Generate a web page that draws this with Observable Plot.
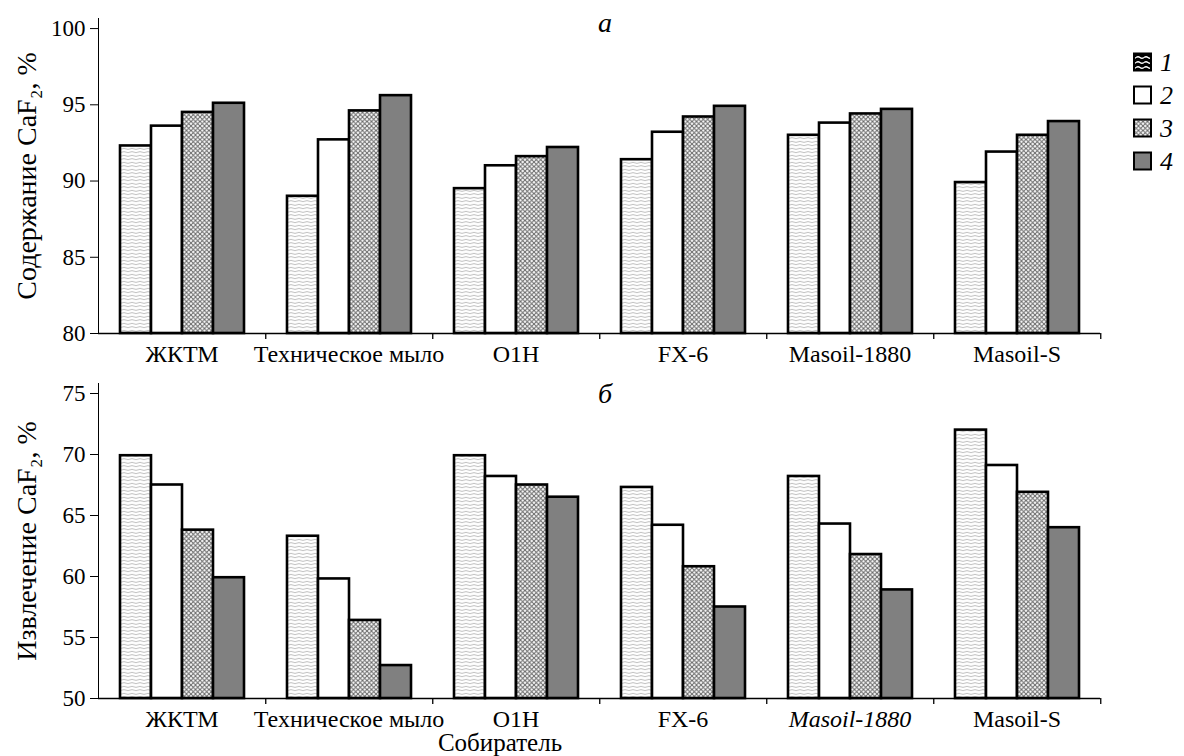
<!DOCTYPE html>
<html><head><meta charset="utf-8">
<script src="https://cdn.jsdelivr.net/npm/d3@7"></script>
<script src="https://cdn.jsdelivr.net/npm/@observablehq/plot@0.6"></script>
<style>
body{margin:0;background:#fff;}
#wrap{position:relative;width:1184px;height:756px;overflow:hidden;background:#fff;}
#wrap svg{display:block;}
#overlay{position:absolute;left:0;top:0;pointer-events:none;}
</style></head><body>
<svg width="0" height="0" style="position:absolute">
<defs>
<pattern id="wave" patternUnits="userSpaceOnUse" width="8" height="3.5">
<rect width="8" height="3.5" fill="#ffffff"/>
<path d="M0,1.75 Q2,0.7 4,1.75 T8,1.75" fill="none" stroke="#9a9a9a" stroke-width="0.7"/>
</pattern>
<pattern id="mesh" patternUnits="userSpaceOnUse" width="4.5" height="4.5">
<rect width="4.5" height="4.5" fill="#ffffff"/>
<path d="M0,0L4.5,4.5M4.5,0L0,4.5" stroke="#666666" stroke-width="1"/>
</pattern>
<pattern id="waveDark" patternUnits="userSpaceOnUse" width="8" height="5">
<rect width="8" height="5" fill="#000"/>
<path d="M0,2.5 Q2,1 4,2.5 T8,2.5" fill="none" stroke="#fff" stroke-width="1.4"/>
</pattern>
</defs></svg>
<div id="wrap"></div>
<script>
// ---- data ----
const categories = ["ЖКТМ", "Техническое мыло", "O1H", "FX-6", "Masoil-1880", "Masoil-S"];
const series = ["1", "2", "3", "4"];
// panel а: Содержание CaF2, % (values per series, in category order)
const content1 = [92.3, 89.0, 89.5, 91.4, 93.0, 89.9];
const content2 = [93.6, 92.7, 91.0, 93.2, 93.8, 91.9];
const content3 = [94.5, 94.6, 91.6, 94.2, 94.4, 93.0];
const content4 = [95.1, 95.6, 92.2, 94.9, 94.7, 93.9];
// panel б: Извлечение CaF2, %
const recovery1 = [69.9, 63.3, 69.9, 67.3, 68.2, 72.0];
const recovery2 = [67.5, 59.8, 68.2, 64.2, 64.3, 69.1];
const recovery3 = [63.8, 56.4, 67.5, 60.8, 61.8, 66.9];
const recovery4 = [59.9, 52.7, 66.5, 57.5, 58.9, 64.0];
const yTicksA = [80, 85, 90, 95, 100];
const yTicksB = [50, 55, 60, 65, 70, 75];
const panelLabels = ["а", "б"];
const yLabelA = "Содержание CaF₂, %";
const yLabelB = "Извлечение CaF₂, %";
const xTitle = "Собиратель";
const italicLabelsB = ["Masoil-1880"];
const seriesFills = ["url(#wave)", "#ffffff", "url(#mesh)", "#808080"];
const legendFills = ["url(#waveDark)", "#ffffff", "url(#mesh)", "#808080"];

function table(cols) {
  return categories.flatMap((c, i) => series.map((s, j) => ({collector: c, series: s, value: cols[j][i]})));
}

const W = 1184, ML = 96, MR = 83;
const step = (W - ML - MR) / categories.length;
const FONT = "'Liberation Serif', 'Times New Roman', serif";

function panel({data, yDomain, yTicks, yLabel, height, marginTop, marginBottom, italic = []}) {
  const chart = Plot.plot({
    width: W, height, marginLeft: ML, marginRight: MR, marginTop, marginBottom,
    style: {fontFamily: FONT, fontSize: "23px", color: "#000", background: "#fff", overflow: "visible"},
    fx: {domain: categories, padding: 0, label: null},
    x: {domain: series, paddingInner: 0, paddingOuter: 2 / 3, axis: null},
    y: {domain: yDomain, ticks: yTicks, tickSize: 8, tickPadding: 5, label: yLabel, labelAnchor: "center", labelOffset: 82, labelArrow: "none", line: true},
    color: {domain: series, range: seriesFills},
    marks: [
      Plot.ruleY([yDomain[0]], {stroke: "#000", strokeWidth: 1.6}),
      Plot.barY(data, {fx: "collector", x: "series", y1: () => yDomain[0], y2: "value", fill: "series", stroke: "#000", strokeWidth: 2.6}),
      Plot.axisFx({anchor: "bottom", tickSize: 0, tickPadding: 11, label: null, fontSize: 24}),
      Plot.axisFx({anchor: "bottom", tickSize: 6, tickFormat: () => "", dx: step / 2, label: null, strokeWidth: 1.3})
    ]
  });
  // larger axis title
  chart.querySelectorAll('[aria-label="y-axis label"]').forEach(g => g.setAttribute("font-size", "28px"));
  chart.querySelectorAll('[aria-label="y-axis label"] text').forEach(t => t.style.fontSize = "28px");
  chart.querySelectorAll("text").forEach(t => { if (italic.includes(t.textContent)) t.style.fontStyle = "italic"; });
  return chart;
}

const wrap = document.getElementById("wrap");
const chartA = panel({
  data: table([content1, content2, content3, content4]),
  yDomain: [80, 100.66], yTicks: yTicksA, yLabel: yLabelA,
  height: 370, marginTop: 18, marginBottom: 37
});
const chartB = panel({
  data: table([recovery1, recovery2, recovery3, recovery4]),
  yDomain: [50, 75.82], yTicks: yTicksB, yLabel: yLabelB,
  height: 386, marginTop: 13, marginBottom: 58, italic: italicLabelsB
});
wrap.appendChild(chartA);
wrap.appendChild(chartB);

// overlay: panel letters, x title, legend
const ov = d3.create("svg").attr("id", "overlay").attr("width", W).attr("height", 756)
  .style("font-family", FONT);
ov.append("text").attr("x", 605).attr("y", 32).attr("text-anchor", "middle")
  .style("font-style", "italic").style("font-size", "28px").text(panelLabels[0]);
ov.append("text").attr("x", 605).attr("y", 403).attr("text-anchor", "middle")
  .style("font-style", "italic").style("font-size", "28px").text(panelLabels[1]);
ov.append("text").attr("x", 500).attr("y", 751).attr("text-anchor", "middle")
  .style("font-size", "25px").text(xTitle);
const lg = ov.append("g");
series.forEach((s, i) => {
  const cy = 62 + i * 33;
  lg.append("rect").attr("x", 1134).attr("y", cy - 8.5).attr("width", 17).attr("height", 17)
    .attr("fill", legendFills[i]).attr("stroke", "#000").attr("stroke-width", 2);
  lg.append("text").attr("x", 1160).attr("y", cy + 9).style("font-style", "italic")
    .style("font-size", "26px").text(s);
});
wrap.appendChild(ov.node());
</script>
</body></html>
